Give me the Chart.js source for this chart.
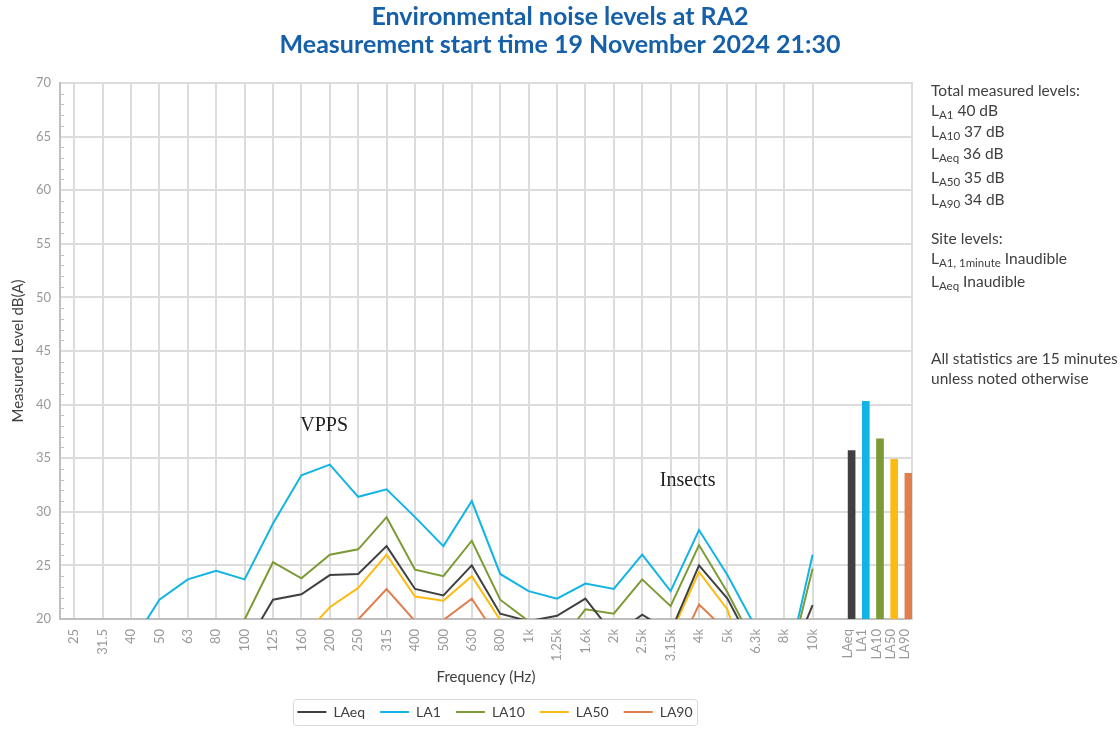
<!DOCTYPE html>
<html>
<head>
<meta charset="utf-8">
<script src="https://cdn.jsdelivr.net/npm/chart.js@4.4.1/dist/chart.umd.min.js"></script>
<style>
  html, body { margin: 0; padding: 0; background: #ffffff; }
  #wrap { position: relative; width: 1120px; height: 729px; overflow: hidden; }
  canvas { position: absolute; left: 0; top: 0; }
  .side { position: absolute; left: 931px; font-family: Lato, "Open Sans", sans-serif; font-size: 15.5px; color: #404040; line-height: 20px; white-space: nowrap; }
  .side sub { font-size: 11.5px; vertical-align: -3px; line-height: 0; }
</style>
</head>
<body>
<div id="wrap">
  <canvas id="c" width="1120" height="729"></canvas>
  <div class="side" style="top:80px">Total measured levels:</div>
  <div class="side" style="top:100px">L<sub>A1</sub> 40 dB</div>
  <div class="side" style="top:121px">L<sub>A10</sub> 37 dB</div>
  <div class="side" style="top:143px">L<sub>Aeq</sub> 36 dB</div>
  <div class="side" style="top:167px">L<sub>A50</sub> 35 dB</div>
  <div class="side" style="top:189px">L<sub>A90</sub> 34 dB</div>
  <div class="side" style="top:228px">Site levels:</div>
  <div class="side" style="top:248px">L<sub>A1, 1minute</sub> Inaudible</div>
  <div class="side" style="top:271px">L<sub>Aeq</sub> Inaudible</div>
  <div class="side" style="top:348px">All statistics are 15 minutes</div>
  <div class="side" style="top:368px">unless noted otherwise</div>
</div>
<script>
// ---- data ----
const freqLabels = ['25','31.5','40','50','63','80','100','125','160','200','250','315','400','500','630','800','1k','1.25k','1.6k','2k','2.5k','3.15k','4k','5k','6.3k','8k','10k'];
const extraSlots = ['', '', ''];
const seriesNames = ['LAeq', 'LA1', 'LA10', 'LA50', 'LA90'];
const seriesColors = ['#404040', '#12b4e4', '#7c9a35', '#fdbb12', '#e07e4e'];

const LAeq = [10, 11, 12, 14, 15, 16, 17.3, 21.8, 22.3, 24.1, 24.2, 26.8, 22.8, 22.2, 25.0, 20.5, 19.8, 20.3, 21.9, 18.5, 20.4, 18.8, 25.0, 21.9, 16.9, 14.8, 21.3];
const LA1  = [14.5, 15.5, 17.6, 21.8, 23.7, 24.5, 23.7, 28.9, 33.4, 34.4, 31.4, 32.1, 29.5, 26.8, 31.0, 24.2, 22.6, 21.9, 23.3, 22.8, 26.0, 22.6, 28.3, 24.1, 19.2, 14.3, 26.0];
const LA10 = [12, 13, 14, 16, 17, 18, 19.95, 25.3, 23.8, 26.0, 26.5, 29.5, 24.6, 24.0, 27.3, 21.8, 19.8, 17.5, 20.9, 20.5, 23.7, 21.2, 26.9, 22.5, 17.4, 13.9, 24.7];
const LA50 = [8, 9, 10, 11, 12, 13, 14, 16, 18.2, 21.1, 22.9, 26.0, 22.1, 21.7, 24.0, 19.9, 17, 16, 17, 16.5, 18, 18.5, 24.4, 20.9, 12.7, 10, 13];
const LA90 = [6, 7, 8, 9, 10, 11, 12, 14, 16, 18, 19.95, 22.8, 19.8, 19.9, 21.9, 17.9, 15, 14, 15, 14.5, 15, 15.7, 21.35, 18.8, 10, 8, 11];
const seriesData = [LAeq, LA1, LA10, LA50, LA90];

const totalLabels = ['LAeq', 'LA1', 'LA10', 'LA50', 'LA90'];
const totalValues = [35.7, 40.3, 36.8, 34.9, 33.6];

const yMin = 20, yMax = 70, yStep = 5, yMinorStep = 1;

const notes = [
  { text: 'VPPS', x: 8.8, y: 38.0 },
  { text: 'Insects', x: 21.6, y: 32.9 }
];

// ---- tables built for the library ----
const xLabels = freqLabels.concat(extraSlots);
const barSlotCount = xLabels.length * 2;
const barSlotLabels = new Array(barSlotCount - totalLabels.length).fill('').concat(totalLabels);
const barSlotData = new Array(barSlotCount - totalValues.length).fill(null).concat(totalValues);
const barSlotColors = new Array(barSlotCount - totalValues.length).fill('rgba(0,0,0,0)').concat(seriesColors);

const FONT = 'Lato, "Open Sans", sans-serif';
const GRID = '#dcdcdc';
const AXIS = '#bfbfbf';
const TICK = '#999999';
const LEGEND_SHIFT = 9;

const datasets = seriesNames.map((name, i) => ({
  type: 'line',
  label: name,
  data: seriesData[i],
  borderColor: seriesColors[i],
  backgroundColor: seriesColors[i],
  borderWidth: 2,
  pointRadius: 0,
  tension: 0,
  clip: 0,
  xAxisID: 'x',
  yAxisID: 'y'
}));
datasets.push({
  type: 'bar',
  label: 'Totals',
  data: barSlotData,
  backgroundColor: barSlotColors,
  barThickness: 7,
  xAxisID: 'xb',
  yAxisID: 'y'
});

const extras = {
  id: 'extras',
  afterLayout(chart) {
    const lg = chart.legend;
    if (lg) { lg.left += LEGEND_SHIFT; lg.right += LEGEND_SHIFT; }
  },
  afterDraw(chart) {
    const { ctx } = chart;
    const x = chart.scales.x, y = chart.scales.y;
    ctx.save();
    // minor ticks on the value axis
    ctx.strokeStyle = AXIS;
    ctx.lineWidth = 1;
    for (let v = yMin + yMinorStep; v < yMax; v += yMinorStep) {
      if (v % yStep === 0) continue;
      const py = Math.round(y.getPixelForValue(v)) + 0.5;
      ctx.beginPath();
      ctx.moveTo(x.left, py);
      ctx.lineTo(x.left + 4, py);
      ctx.stroke();
    }
    // annotations
    ctx.fillStyle = '#222222';
    ctx.font = '20px "Liberation Serif", "DejaVu Serif", serif';
    ctx.textAlign = 'center';
    ctx.textBaseline = 'middle';
    notes.forEach(n => ctx.fillText(n.text, x.getPixelForValue(n.x), y.getPixelForValue(n.y)));
    // legend frame
    const lg = chart.legend;
    if (lg && lg.legendHitBoxes && lg.legendHitBoxes.length) {
      const hb = lg.legendHitBoxes;
      const l = Math.min(...hb.map(b => b.left)) - 4;
      const r = Math.max(...hb.map(b => b.left + b.width)) + 5;
      const t = Math.min(...hb.map(b => b.top)) - 6;
      const bt = Math.max(...hb.map(b => b.top + b.height)) + 6;
      ctx.strokeStyle = '#d9d9d9';
      ctx.lineWidth = 1;
      ctx.beginPath();
      ctx.roundRect(Math.round(l) + 0.5, Math.round(t) + 0.5, Math.round(r - l), Math.round(bt - t), 3);
      ctx.stroke();
    }
    ctx.restore();
  }
};

const tickFont = { family: FONT, size: 13 };

new Chart(document.getElementById('c'), {
  data: { labels: xLabels, datasets },
  options: {
    responsive: false,
    animation: false,
    events: [],
    layout: { padding: 0 },
    plugins: {
      title: {
        display: true,
        text: ['Environmental noise levels at RA2', 'Measurement start time 19 November 2024 21:30'],
        color: '#1560a8',
        font: { family: FONT, size: 25, weight: 'bold', lineHeight: 1.12 },
        padding: { top: 3, bottom: 24 }
      },
      legend: {
        position: 'bottom',
        fullSize: false,
        labels: {
          usePointStyle: true,
          pointStyle: 'line',
          pointStyleWidth: 29,
          padding: 15,
          color: '#404040',
          font: { family: FONT, size: 14 },
          filter: item => item.datasetIndex < seriesNames.length
        }
      },
      tooltip: { enabled: false }
    },
    scales: {
      x: {
        type: 'category',
        labels: xLabels,
        position: 'bottom',
        weight: 1,
        offset: true,
        grid: {
          offset: false,
          drawTicks: false,
          lineWidth: 2,
          color: ctx => (ctx.index < freqLabels.length ? GRID : 'rgba(0,0,0,0)')
        },
        border: { display: true, color: AXIS, width: 2 },
        ticks: {
          autoSkip: false,
          minRotation: 90,
          maxRotation: 90,
          padding: 10,
          color: TICK,
          font: tickFont
        },
        title: {
          display: true,
          text: 'Frequency (Hz)',
          color: '#404040',
          font: { family: FONT, size: 15, lineHeight: 1.2 },
          padding: { top: 0, bottom: 4 }
        },
        afterFit: s => { s.height = 71; }
      },
      xb: {
        type: 'category',
        labels: barSlotLabels,
        position: 'bottom',
        weight: 0,
        offset: true,
        grid: { display: false, drawTicks: false },
        border: { display: false },
        ticks: {
          autoSkip: false,
          minRotation: 90,
          maxRotation: 90,
          padding: 10,
          color: TICK,
          font: tickFont
        },
        afterFit: s => {
          s.height = 0;
          // labels of this zero-height axis share the row of the frequency labels
          s._computeLabelArea = () => undefined;
        }
      },
      y: {
        type: 'linear',
        position: 'left',
        min: yMin,
        max: yMax,
        grid: { color: GRID, lineWidth: 2, drawTicks: false },
        border: { display: true, color: AXIS, width: 2 },
        ticks: {
          stepSize: yStep,
          padding: 9,
          color: TICK,
          font: tickFont
        },
        title: {
          display: true,
          text: 'Measured Level dB(A)',
          color: '#404040',
          font: { family: FONT, size: 15, lineHeight: 1.2 },
          padding: { top: 9, bottom: 0 }
        },
        afterFit: s => { s.width = 60; }
      },
      y2: {
        type: 'linear',
        position: 'right',
        grid: { display: false, drawTicks: false },
        border: { display: true, color: GRID, width: 2 },
        ticks: { display: false },
        afterFit: s => { s.width = 208; }
      }
    }
  },
  plugins: [extras]
});
</script>
</body>
</html>
